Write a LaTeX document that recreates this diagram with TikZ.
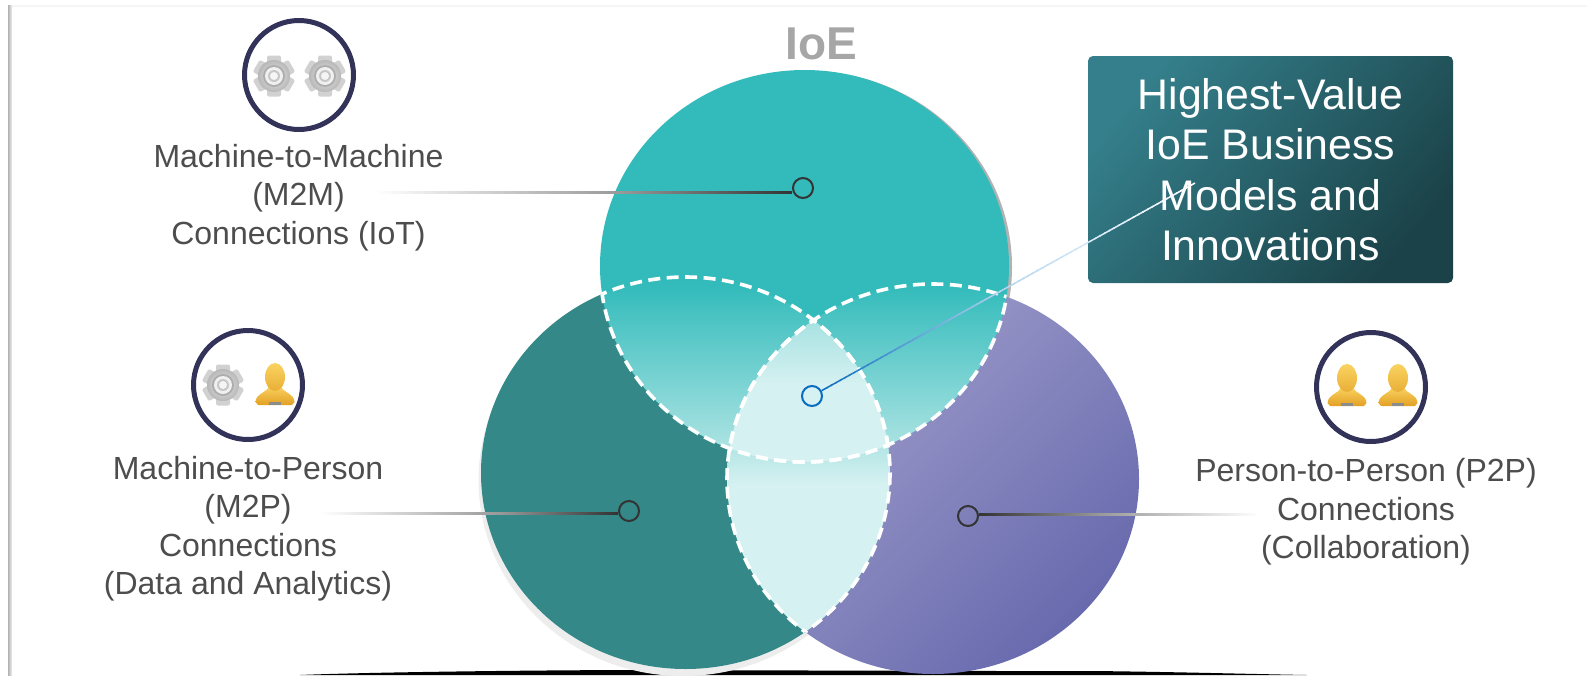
\documentclass[tikz,border=0pt]{standalone}
\usepackage{fontspec}
\setmainfont{Liberation Sans}
\usetikzlibrary{calc}

\definecolor{topteal}{HTML}{33BBBB}
\definecolor{leftteal}{HTML}{348888}
\definecolor{palelens}{HTML}{D6F1F1}
\definecolor{ringnavy}{HTML}{33335A}
\definecolor{labelgray}{HTML}{4D4D4D}
\definecolor{leaderdark}{HTML}{333333}
\definecolor{leadermid}{HTML}{999999}
\definecolor{bluedotcol}{HTML}{0A6CC0}
\definecolor{bluelight}{HTML}{B5D5EE}
\definecolor{purplelight}{HTML}{A5A2CE}
\definecolor{purpledark}{HTML}{686AAE}
\definecolor{boxlight}{HTML}{347F8B}
\definecolor{boxdark}{HTML}{1B4248}
\definecolor{goldlight}{HTML}{F9D361}
\definecolor{golddark}{HTML}{E3A024}

% Circles of the diagram
\newcommand{\topcirc}{(804.5,266) ellipse [x radius=204.5,y radius=196]}
\newcommand{\leftcirc}{(685.5,473) ellipse [x radius=204.5,y radius=196]}
\newcommand{\rightcirc}{(933,479) ellipse [x radius=206,y radius=195]}

% Line that changes colour along its length
\newcommand{\fadeline}[5]{
    \foreach \i in {1,...,40}{
        \pgfmathsetmacro{\from}{(\i-1)/40}
        \pgfmathsetmacro{\to}{min(1,(\i+0.3)/40)}
        \pgfmathsetmacro{\mix}{(\i-0.5)*2.5}
        \draw[line width=#5, color=#4!\mix!#3] ($(#1)!\from!(#2)$) -- ($(#1)!\to!(#2)$);
    }
}

\tikzset{
    iconring/.style={draw=ringnavy, circle, line width=5pt, minimum size=109pt, inner sep=0pt},
    sidelabel/.style={align=center, inner sep=0pt, text=labelgray,
        font=\fontsize{32}{38.5}\selectfont},
    leaderdot/.style={draw=leaderdark, circle, line width=2pt, minimum size=20pt, inner sep=0pt},
    lensdash/.style={draw=white, line width=3.6pt, dash pattern=on 12pt off 6.5pt},
    pics/gearicon/.style={code={
        \foreach \a in {0,60,...,300}
            \fill[black!18, rotate=\a, rounded corners=2pt] (-7,-20.5) rectangle (7,-10);
        \shade[inner color=black!8, outer color=black!28] (0,0) circle (16);
        \fill[black!32] (0,0) circle (11);
        \fill[black!6] (0,0) circle (9);
        \fill[black!22] (0,0) circle (6);
        \fill[black!4] (0,0) circle (4);
    }},
    pics/personicon/.style={code={
        \shade[top color=goldlight, bottom color=golddark]
            (-19.5,18) .. controls (-19,9) and (-8,9) .. (-6,2) -- (6,2)
            .. controls (8,9) and (19,9) .. (19.5,18) -- (17,21) -- (-17,21) -- cycle;
        \shade[top color=goldlight, bottom color=golddark!70!goldlight]
            (0,-7) ellipse [x radius=10,y radius=14];
        \fill[black!45] (-6,17.5) rectangle (6,21);
    }}
}

\begin{document}
\begin{tikzpicture}[x=1pt,y=-1pt]
    \useasboundingbox (0,0) rectangle (1587,675);

    % Frame lines
    \fill[black!4] (10,5) rectangle (1587,6.5);
    \shade[left color=black!30, right color=black!5] (8,5) rectangle (12,675);

    % Band at the bottom
    \fill[black] (300,675) .. controls (360,672.5) and (500,670.5) .. (625,670)
        -- (1000,671) -- (1094,671) .. controls (1180,672) and (1250,674) .. (1307,675) -- cycle;

    % Shadows
    \fill[black!7] (683,480) ellipse [x radius=204.5,y radius=196];
    \fill[black!30] (807.5,267) ellipse [x radius=204.5,y radius=196];

    % The three circles
    \shade[left color=purplelight, right color=purpledark, shading angle=45] \rightcirc;
    \fill[leftteal] \leftcirc;
    \fill[topteal] \topcirc;

    % Intersection of left and right
    \begin{scope}
        \clip \leftcirc;
        \clip \rightcirc;
        \fill[palelens] (700,270) rectangle (900,640);
        \shade[top color=palelens!78!topteal, bottom color=palelens] (700,445) rectangle (900,485);
    \end{scope}

    % Top circle over the other two
    \begin{scope}
        \clip \topcirc;
        \begin{scope}
            \clip \leftcirc;
            \shade[top color=topteal, bottom color=palelens!82!topteal] (590,285) rectangle (1020,465);
        \end{scope}
        \begin{scope}
            \clip \rightcirc;
            \shade[top color=topteal, bottom color=palelens!82!topteal] (590,285) rectangle (1020,465);
        \end{scope}
        \clip \leftcirc;
        \clip \rightcirc;
        \fill[palelens] (700,385) rectangle (900,470);
        \shade[top color=palelens!70!topteal, bottom color=palelens] (700,318) rectangle (900,385);
    \end{scope}

    % Dashed outlines of the overlaps
    \foreach \outer/\inner in {\topcirc/\leftcirc, \topcirc/\rightcirc, \leftcirc/\topcirc,
        \leftcirc/\rightcirc, \rightcirc/\topcirc, \rightcirc/\leftcirc}{
        \begin{scope}
            \clip \inner;
            \draw[lensdash] \outer;
        \end{scope}
    }

    \node[font=\fontsize{46}{50}\selectfont\bfseries, text=black!35, inner sep=0pt] (ioe_title) at (821,44) {IoE};

    % Box with label
    \node[shade,
        left color=boxlight,
        right color=boxdark,
        shading angle=50,
        rounded corners=5pt,
        minimum width=365pt,
        minimum height=227pt,
        inner sep=0pt,
        align=center,
        text=white,
        font=\fontsize{42.8}{50.5}\selectfont] (value_box) at (1270.5,169.5) {Highest-Value\\IoE Business\\Models and\\Innovations};

    % Icons in rings
    \node[iconring] (m2m_ring) at (299,75) {};
    \node[iconring] (m2p_ring) at (248,385) {};
    \node[iconring] (p2p_ring) at (1371,387) {};
    \pic at (274,76) {gearicon};
    \pic at (325,76) {gearicon};
    \pic at (223,385) {gearicon};
    \pic at (275,384) {personicon};
    \pic at (1347,385) {personicon};
    \pic at (1398,385) {personicon};

    % Labels
    \node[sidelabel] (m2m_label) at (298.5,197.5) {Machine-to-Machine\\(M2M)\\Connections (IoT)};
    \node[sidelabel] (m2p_label) at (248,528.5) {Machine-to-Person\\(M2P)\\Connections\\(Data and Analytics)};
    \node[sidelabel] (p2p_label) at (1366,512) {Person-to-Person (P2P)\\Connections\\(Collaboration)};

    % Dots with leaders
    \node[leaderdot] (m2m_dot) at (803,188) {};
    \node[leaderdot] (m2p_dot) at (629,511) {};
    \node[leaderdot] (p2p_dot) at (968,516) {};
    \node[leaderdot, draw=bluedotcol] (value_dot) at (812,396) {};

    \coordinate (m2m_free) at (375,192);
    \coordinate (m2m_mid) at (620,192);
    \coordinate (m2p_free) at (320,513);
    \coordinate (m2p_mid) at (500,513);
    \coordinate (p2p_free) at (1260,514);
    \coordinate (p2p_mid) at (1100,514);
    \coordinate (value_tip) at (1195,183);
    \coordinate (value_start) at ($(value_dot)!11pt!(value_tip)$);
    \coordinate (value_mid) at ($(value_dot)!0.5!(value_tip)$);

    \fadeline{m2m_free}{m2m_mid}{white}{leadermid}{3pt}
    \fadeline{m2m_mid}{m2m_dot.west |- m2m_free}{leadermid}{leaderdark}{3pt}
    \fadeline{m2p_free}{m2p_mid}{white}{leadermid}{3pt}
    \fadeline{m2p_mid}{m2p_dot.west |- m2p_free}{leadermid}{leaderdark}{3pt}
    \fadeline{p2p_free}{p2p_mid}{white}{leadermid}{3pt}
    \fadeline{p2p_mid}{p2p_dot.east |- p2p_free}{leadermid}{leaderdark}{3pt}
    \fadeline{value_start}{value_mid}{bluedotcol}{bluelight}{1.5pt}
    \fadeline{value_mid}{value_tip}{bluelight}{white}{1.5pt}
\end{tikzpicture}
\end{document}
